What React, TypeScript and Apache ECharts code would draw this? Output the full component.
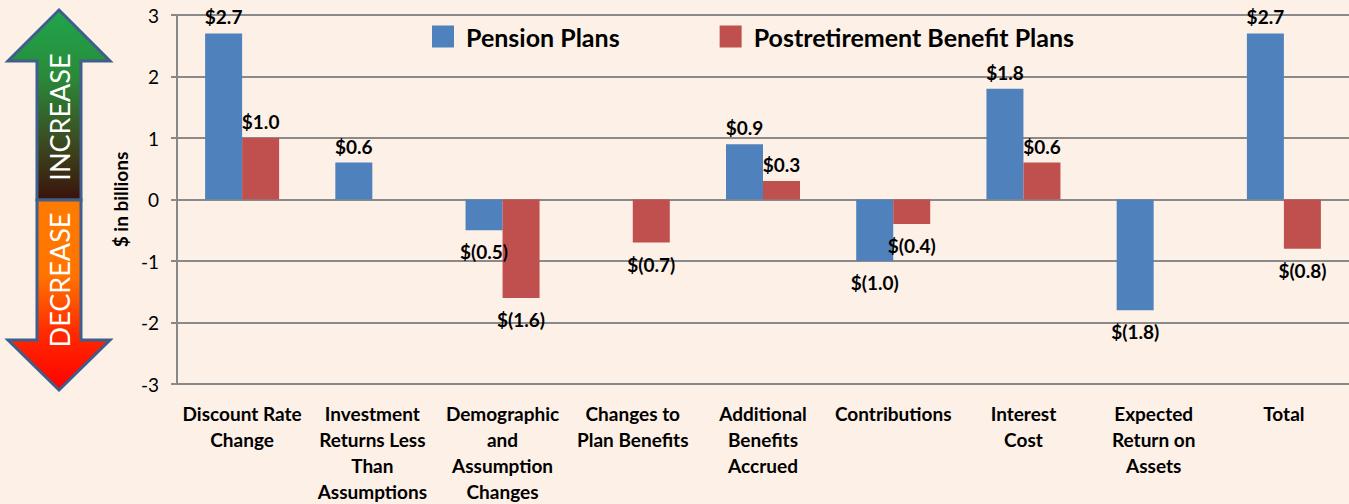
import React, { useEffect, useRef } from "react";
import * as echarts from "echarts";

const categories = [
  "Discount Rate\nChange",
  "Investment\nReturns Less\nThan\nAssumptions",
  "Demographic\nand\nAssumption\nChanges",
  "Changes to\nPlan Benefits",
  "Additional\nBenefits\nAccrued",
  "Contributions",
  "Interest\nCost",
  "Expected\nReturn on\nAssets",
  "Total",
];
const pensionPlans: (number | null)[] = [2.7, 0.6, -0.5, null, 0.9, -1.0, 1.8, -1.8, 2.7];
const postretirementPlans: (number | null)[] = [1.0, null, -1.6, -0.7, 0.3, -0.4, 0.6, null, -0.8];
const yTicks = { min: -3, max: 3, interval: 1 };

const FONT = "Lato, 'Noto Sans', sans-serif";

function fmt(v: number) {
  return v < 0 ? `$(${Math.abs(v).toFixed(1)})` : `$${v.toFixed(1)}`;
}

function toItems(values: (number | null)[]) {
  return values.map((v) =>
    v == null
      ? { value: null }
      : {
          value: v,
          label: {
            show: true,
            position: v >= 0 ? "top" : "bottom",
            distance: v >= 0 ? 7 : 12,
          },
        }
  );
}

export default function App() {
  const ref = useRef<HTMLDivElement>(null);
  useEffect(() => {
    document.body.style.margin = "0";
    document.body.style.background = "#FDF0E7";
    const chart = echarts.init(ref.current!, null, { renderer: "svg" });
    const border = "#3E5E8C";
    const labelStyle = {
      show: true,
      fontSize: 19,
      fontWeight: "bold",
      color: "#000",
      fontFamily: FONT,
      formatter: (p: any) => fmt(p.value),
    };
    chart.setOption({
      animation: false,
      backgroundColor: "#FDF0E7",
      textStyle: { fontFamily: FONT },
      legend: {
        left: 427,
        top: 19,
        itemWidth: 22,
        itemHeight: 22,
        itemGap: 100,
        icon: "rect",
        textStyle: { fontSize: 25, fontWeight: "bold", color: "#000", fontFamily: FONT, padding: [0, 0, 0, 7] },
      },
      grid: { left: 177, right: 0, top: 15, bottom: 118 },
      xAxis: {
        type: "category",
        data: categories,
        axisLine: { onZero: false, lineStyle: { color: "#888", width: 2 } },
        axisTick: { show: false },
        axisLabel: {
          interval: 0,
          margin: 16,
          fontSize: 19,
          fontWeight: "bold",
          color: "#000",
          lineHeight: 26,
          fontFamily: FONT,
        },
      },
      yAxis: {
        type: "value",
        min: yTicks.min,
        max: yTicks.max,
        interval: yTicks.interval,
        name: "$ in billions",
        nameLocation: "middle",
        nameGap: 38,
        nameTextStyle: { fontSize: 19, fontWeight: "bold", color: "#000", fontFamily: FONT },
        axisLine: { show: true, lineStyle: { color: "#888", width: 2 } },
        axisTick: { show: true, length: 6, lineStyle: { color: "#888", width: 2 } },
        axisLabel: { fontSize: 19, color: "#000", margin: 18, fontFamily: FONT },
        splitLine: { lineStyle: { color: "#8a8a8a", width: 2 } },
      },
      series: [
        {
          name: "Pension Plans",
          type: "bar",
          data: toItems(pensionPlans),
          barWidth: 37,
          barGap: "0%",
          itemStyle: { color: "#4F81BD" },
          label: labelStyle,
        },
        {
          name: "Postretirement Benefit Plans",
          type: "bar",
          data: toItems(postretirementPlans),
          barWidth: 37,
          barGap: "0%",
          itemStyle: { color: "#C0504D" },
          label: labelStyle,
        },
      ],
      graphic: [
        {
          type: "polygon",
          shape: {
            points: [
              [59, 10], [110, 61], [81, 61], [81, 200], [37, 200], [37, 61], [8, 61],
            ],
          },
          style: {
            fill: new echarts.graphic.LinearGradient(0, 0, 0, 1, [
              { offset: 0, color: "#1FA64B" },
              { offset: 0.35, color: "#2A8A3A" },
              { offset: 0.7, color: "#3B4A20" },
              { offset: 1, color: "#3A120A" },
            ]),
            stroke: border,
            lineWidth: 3,
          },
        },
        {
          type: "polygon",
          shape: {
            points: [
              [37, 200], [81, 200], [81, 340], [110, 340], [59, 390], [8, 340], [37, 340],
            ],
          },
          style: {
            fill: new echarts.graphic.LinearGradient(0, 0, 0, 1, [
              { offset: 0, color: "#FF7B00" },
              { offset: 0.4, color: "#FF7400" },
              { offset: 0.7, color: "#FF2A00" },
              { offset: 1, color: "#FF0000" },
            ]),
            stroke: border,
            lineWidth: 3,
          },
        },
        {
          type: "text",
          x: 59,
          y: 117,
          rotation: Math.PI / 2,
          style: {
            text: "INCREASE",
            fill: "#fff",
            fontSize: 27,
            fontFamily: FONT,
            align: "center",
            verticalAlign: "middle",
          },
        },
        {
          type: "text",
          x: 59,
          y: 280,
          rotation: Math.PI / 2,
          style: {
            text: "DECREASE",
            fill: "#fff",
            fontSize: 27,
            fontFamily: FONT,
            align: "center",
            verticalAlign: "middle",
          },
        },
      ],
    });
    return () => chart.dispose();
  }, []);
  return <div ref={ref} style={{ width: 1349, height: 504 }} />;
}
